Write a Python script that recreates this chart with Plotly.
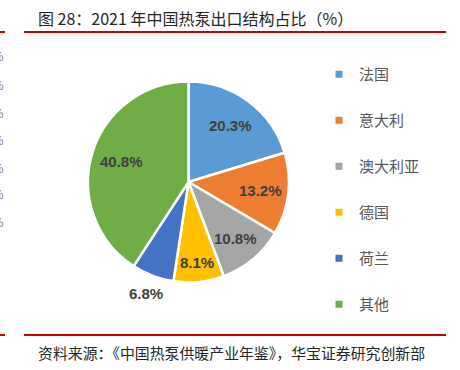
import math
import plotly.graph_objects as go

# ---- data ----
categories = ["法国", "意大利", "澳大利亚", "德国", "荷兰", "其他"]
shares = [20.3, 13.2, 10.8, 8.1, 6.8, 40.8]
colors = ["#5B9BD5", "#ED7D31", "#A5A5A5", "#FFC000", "#4472C4", "#70AD47"]
label_radius = [0.70, 0.72, 0.73, 0.81, 1.19, 0.70]   # label distance as fraction of radius
title_text = "图 28：2021 年中国热泵出口结构占比（%）"
source_text = "资料来源：《中国热泵供暖产业年鉴》，华宝证券研究创新部"
edge_fragments_y = [57, 85, 113, 140, 168, 195, 223]  # clipped remnants at left edge

W, H = 460, 370
LABEL_FONT = "Liberation Sans Narrow, Liberation Sans, Arial, sans-serif"
CJK_FONT = "Noto Sans CJK SC, sans-serif"

# pie placement (pixels)
CX, CY, R = 188.5, 182.0, 100.5

fig = go.Figure()

fig.add_trace(go.Pie(
    labels=categories,
    values=shares,
    sort=False,
    direction="clockwise",
    rotation=0,
    marker=dict(colors=colors, line=dict(color="white", width=2.5)),
    textinfo="none",
    domain=dict(x=[(CX - R) / W, (CX + R) / W], y=[1 - (CY + R) / H, 1 - (CY - R) / H]),
    showlegend=False,
    hoverinfo="label+percent",
))

# data labels placed along each slice's mid-angle
total = sum(shares)
annotations = []
cum = 0.0
for v, f in zip(shares, label_radius):
    mid = (cum + v / 2) / total * 2 * math.pi
    cum += v
    px = CX + f * R * math.sin(mid)
    py = CY - f * R * math.cos(mid)
    annotations.append(dict(text=f"{v:.1f}%", xref="paper", yref="paper",
                            x=px / W, y=1 - py / H, xanchor="center", yanchor="middle",
                            showarrow=False,
                            font=dict(family=LABEL_FONT, size=15, color="#404040",
                                      weight="bold")))

# legend entries (square swatches)
for name, col in zip(categories, colors):
    fig.add_trace(go.Scatter(
        x=[None], y=[None], mode="markers", name=name, legendgroup=name,
        marker=dict(symbol="square", size=7, color=col),
        showlegend=True,
    ))

shapes = []
for yy in (32, 335):
    shapes.append(dict(type="line", xref="paper", yref="paper",
                       x0=24 / W, x1=446 / W, y0=1 - yy / H, y1=1 - yy / H,
                       line=dict(color="#CC0000", width=2)))
    shapes.append(dict(type="line", xref="paper", yref="paper",
                       x0=0, x1=5 / W, y0=1 - yy / H, y1=1 - yy / H,
                       line=dict(color="#CC0000", width=2)))

annotations += [
    dict(text=title_text, xref="paper", yref="paper", x=36 / W, y=1 - 18 / H,
         xanchor="left", yanchor="middle", showarrow=False,
         font=dict(family=CJK_FONT, size=16, color="#262626")),
    dict(text=source_text, xref="paper", yref="paper", x=36 / W, y=1 - 352 / H,
         xanchor="left", yanchor="middle", showarrow=False,
         font=dict(family=CJK_FONT, size=14.9, color="#262626")),
]
for yy in edge_fragments_y:
    annotations.append(dict(text="%", xref="paper", yref="paper", x=0, xshift=6,
                            y=1 - yy / H, xanchor="right", yanchor="middle",
                            showarrow=False,
                            font=dict(family="Liberation Sans", size=13, color="#7F7F7F")))

fig.update_layout(
    width=W, height=H,
    margin=dict(l=0, r=0, t=0, b=0),
    paper_bgcolor="white", plot_bgcolor="white",
    xaxis=dict(visible=False), yaxis=dict(visible=False),
    showlegend=True,
    legend=dict(x=319 / W, y=1 - 58 / H, xanchor="left", yanchor="top",
                font=dict(family=CJK_FONT, size=15, color="#595959"),
                tracegroupgap=23.5, bgcolor="rgba(0,0,0,0)"),
    shapes=shapes,
    annotations=annotations,
)

fig.write_html("out.html", config={"displayModeBar": False},
               post_script="document.body.style.margin='0px';")
